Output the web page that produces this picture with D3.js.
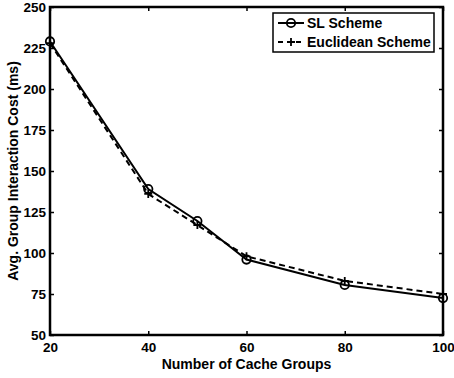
<!DOCTYPE html>
<html>
<head>
<meta charset="utf-8">
<script src="https://cdn.jsdelivr.net/npm/d3@7"></script>
<style>
  html, body { margin: 0; padding: 0; background: #fff; }
  svg { display: block; font-family: "Liberation Sans", Arial, Helvetica, sans-serif; font-weight: bold; }
</style>
</head>
<body>
<svg id="chart" width="454" height="378"></svg>
<script>
// Number of cache groups on the x axis
const cacheGroups = [20, 40, 50, 60, 80, 100];
// Average group interaction cost (ms) for each scheme
const slScheme = [229, 139, 119.5, 96, 80.5, 72.5];
const euclideanScheme = [228, 136, 117, 98, 83, 75];
// Axis ticks
const xTicks = [20, 40, 60, 80, 100];
const yTicks = [50, 75, 100, 125, 150, 175, 200, 225, 250];

const svg = d3.select("#chart");
const plotLeft = 50, plotRight = 443, plotTop = 7, plotBottom = 335;
const tickLen = 4;

const x = d3.scaleLinear().domain([20, 100]).range([plotLeft, plotRight]);
const y = d3.scaleLinear().domain([50, 250]).range([plotBottom, plotTop]);

// Inward-pointing ticks on all four sides
const gx = svg.append("g").attr("transform", `translate(0,${plotBottom})`)
  .call(d3.axisBottom(x).tickValues(xTicks).tickSize(-tickLen).tickPadding(7.5).tickFormat(d3.format("d")));
const gy = svg.append("g").attr("transform", `translate(${plotLeft},0)`)
  .call(d3.axisLeft(y).tickValues(yTicks).tickSize(-tickLen).tickPadding(4).tickFormat(d3.format("d")));
const gxt = svg.append("g").attr("transform", `translate(0,${plotTop})`)
  .call(d3.axisTop(x).tickValues(xTicks).tickSize(-tickLen).tickFormat(""));
const gyr = svg.append("g").attr("transform", `translate(${plotRight},0)`)
  .call(d3.axisRight(y).tickValues(yTicks).tickSize(-tickLen).tickFormat(""));

[gx, gy, gxt, gyr].forEach(g => {
  g.select(".domain").remove();
  g.selectAll(".tick line").attr("stroke", "#000").attr("stroke-width", 1.5);
  g.selectAll(".tick text").attr("fill", "#000").style("font-size", "13.5px")
    .style("font-family", "'Liberation Sans', Arial, sans-serif").style("font-weight", "bold");
});
gy.selectAll(".tick text").attr("dy", "0.36em");

// Axes box
svg.append("rect")
  .attr("x", plotLeft).attr("y", plotTop)
  .attr("width", plotRight - plotLeft).attr("height", plotBottom - plotTop)
  .attr("fill", "none").attr("stroke", "#000").attr("stroke-width", 2.5);

// Axis titles
svg.append("text")
  .attr("x", (plotLeft + plotRight) / 2).attr("y", 369)
  .attr("text-anchor", "middle").style("font-size", "14px")
  .text("Number of Cache Groups");
svg.append("text")
  .attr("transform", `translate(18,${(plotTop + plotBottom) / 2}) rotate(-90)`)
  .attr("text-anchor", "middle").style("font-size", "14px")
  .text("Avg. Group Interaction Cost (ms)");

// Series
const series = [
  { name: "SL Scheme", values: slScheme, dash: null, marker: "circle" },
  { name: "Euclidean Scheme", values: euclideanScheme, dash: "6,4", marker: "plus" }
];

const line = d3.line().x(d => x(d[0])).y(d => y(d[1]));

function drawMarker(g, cx, cy, kind) {
  if (kind === "circle") {
    g.append("circle").attr("cx", cx).attr("cy", cy).attr("r", 4.2)
      .attr("fill", "none").attr("stroke", "#000").attr("stroke-width", 1.8);
  } else {
    g.append("path").attr("d", `M${cx - 4},${cy}H${cx + 4}M${cx},${cy - 4}V${cy + 4}`)
      .attr("stroke", "#000").attr("stroke-width", 1.8);
  }
}

// Dashed series first so the solid one sits on top
series.slice().reverse().forEach(s => {
  const pts = cacheGroups.map((c, i) => [c, s.values[i]]);
  const g = svg.append("g");
  g.append("path").datum(pts).attr("d", line)
    .attr("fill", "none").attr("stroke", "#000").attr("stroke-width", 2)
    .attr("stroke-dasharray", s.dash);
  pts.forEach(p => drawMarker(g, x(p[0]), y(p[1]), s.marker));
});

// Legend
const lg = svg.append("g");
lg.append("rect").attr("x", 273).attr("y", 13).attr("width", 161).attr("height", 39)
  .attr("fill", "#fff").attr("stroke", "#000").attr("stroke-width", 1.5);
series.forEach((s, i) => {
  const ly = 23 + i * 19;
  lg.append("line").attr("x1", 278).attr("x2", 304).attr("y1", ly).attr("y2", ly)
    .attr("stroke", "#000").attr("stroke-width", 2).attr("stroke-dasharray", s.dash ? "5,4" : null);
  drawMarker(lg, 291, ly, s.marker);
  lg.append("text").attr("x", 307).attr("y", ly + 5).style("font-size", "14px").text(s.name);
});
</script>
</body>
</html>
